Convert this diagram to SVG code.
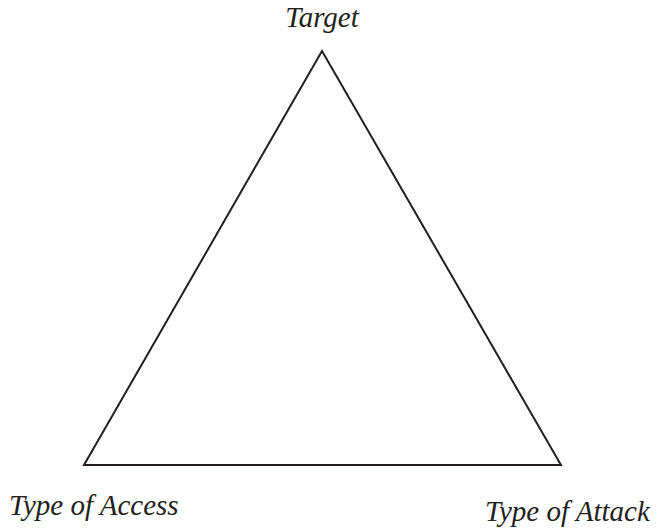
<svg xmlns="http://www.w3.org/2000/svg" width="657" height="528" viewBox="0 0 657 528">
  <style>
    .label { font-family: "Liberation Serif", "Times New Roman", serif; font-style: italic; font-size: 29px; fill: #231f20; }
    .edge { fill: none; stroke: #231f20; stroke-width: 2; stroke-linejoin: miter; }
  </style>
  <rect width="657" height="528" fill="#ffffff"/>
  <g id="connectors">
    <polygon class="edge" points="322,51 84,465 561,465"/>
  </g>
  <g id="target">
    <text class="label" x="322" y="27" text-anchor="middle">Target</text>
  </g>
  <g id="type-of-access">
    <text class="label" x="9" y="515">Type of Access</text>
  </g>
  <g id="type-of-attack">
    <text class="label" x="485" y="521">Type of Attack</text>
  </g>
</svg>
